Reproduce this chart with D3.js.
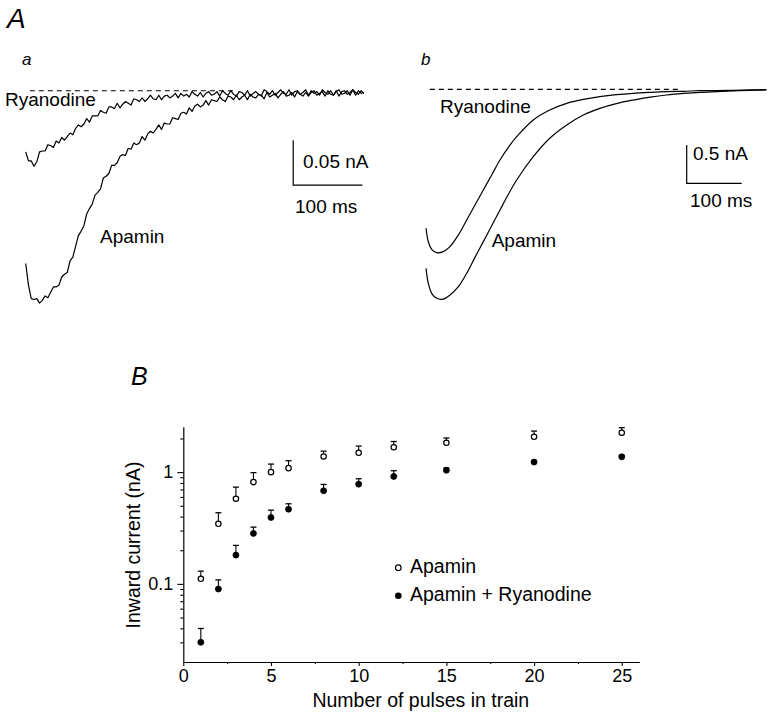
<!DOCTYPE html>
<html><head><meta charset="utf-8">
<script src="https://cdn.jsdelivr.net/npm/d3@7"></script>
<style>
body{margin:0;background:#fff}
svg{display:block}
text{font-family:"Liberation Sans",Arial,Helvetica,sans-serif;fill:#000}
</style>
</head><body>
<svg id="c" width="779" height="720"></svg>
<script>
// ---------- Panel A a : noisy traces, sampled every 4 ms (nA) ----------
const sampleMs = 4;
const aApamin = [-0.192,-0.216,-0.231,-0.232,-0.231,-0.236,-0.233,-0.228,-0.230,-0.224,
 -0.218,-0.218,-0.216,-0.207,-0.204,-0.202,-0.189,-0.185,-0.173,-0.161,
 -0.156,-0.150,-0.137,-0.131,-0.126,-0.116,-0.113,-0.109,-0.097,-0.095,
 -0.092,-0.083,-0.083,-0.080,-0.073,-0.071,-0.072,-0.064,-0.065,-0.058,
 -0.060,-0.058,-0.051,-0.055,-0.048,-0.045,-0.047,-0.043,-0.038,-0.043,
 -0.036,-0.037,-0.037,-0.030,-0.031,-0.032,-0.025,-0.024,-0.026,-0.019,
 -0.023,-0.017,-0.015,-0.018,-0.016,-0.011,-0.016,-0.010,-0.011,-0.012,
 -0.007,-0.010,-0.012,-0.006,-0.007,-0.010,-0.005,-0.010,-0.007,-0.005,
 -0.010,-0.004,-0.007,-0.008,-0.004,-0.005,-0.009,-0.002,-0.007,-0.005,
 -0.003,-0.008,-0.004,-0.001,-0.006,-0.005,-0.002,-0.007,-0.001,-0.004,
 -0.006,-0.002,-0.006,-0.002,0.000,-0.005,-0.003,-0.001,-0.006,0.000,
 -0.004,-0.005,0.000,-0.006,-0.001,0.000,-0.004,-0.002,0.001,-0.005,
 0.000,-0.003,-0.002];
const aRyanodine = [-0.068,-0.078,-0.078,-0.084,-0.079,-0.068,-0.067,-0.067,-0.060,-0.061,
 -0.063,-0.056,-0.058,-0.052,-0.055,-0.051,-0.047,-0.049,-0.042,-0.038,
 -0.040,-0.037,-0.031,-0.035,-0.028,-0.028,-0.028,-0.022,-0.024,-0.025,
 -0.018,-0.018,-0.020,-0.014,-0.019,-0.015,-0.012,-0.014,-0.016,-0.009,
 -0.010,-0.012,-0.008,-0.012,-0.009,-0.005,-0.009,-0.010,-0.005,-0.010,
 -0.006,-0.005,-0.008,-0.006,-0.003,-0.008,-0.003,-0.006,-0.004,-0.007,
 -0.001,-0.004,-0.006,-0.002,-0.007,-0.003,-0.001,-0.005,-0.004,-0.001,
 -0.006,0.000,-0.003,-0.005,0.000,-0.004,-0.006,-0.001,-0.002,-0.005,
 0.000,-0.006,-0.003,-0.001,-0.004,-0.006,0.001,-0.001,-0.004,0.000,
 -0.005,-0.002,0.001,-0.003,-0.004,0.001,-0.005,-0.001,0.000,-0.004,
 -0.002,0.001,-0.005,0.000,-0.003,-0.001,-0.005,0.001,-0.002,-0.004,
 0.000,-0.005,-0.001,0.001,-0.004,-0.003,0.000,-0.005,0.001,-0.002,
 -0.004,0.000,-0.003];

// ---------- Panel A b : averaged traces (ms, nA) ----------
const bTime      = [0,4.2,10.3,19.4,31.5,43.6,58.8,74,89,104.2,119.4,134.5,149.7,164.9,195,225,255.8,286,316,346,377,408,437.6,468,498,529,559,589,619];
const bRyanodine = [-1.812,-1.987,-2.086,-2.130,-2.117,-2.052,-1.900,-1.704,-1.509,-1.313,-1.117,-0.922,-0.757,-0.618,-0.400,-0.270,-0.183,-0.132,-0.096,-0.070,-0.052,-0.040,-0.031,-0.026,-0.018,-0.016,-0.013,-0.008,-0.005];
const bApamin    = [-2.334,-2.529,-2.660,-2.725,-2.735,-2.682,-2.573,-2.399,-2.191,-1.986,-1.778,-1.574,-1.369,-1.182,-0.879,-0.639,-0.465,-0.335,-0.248,-0.186,-0.140,-0.102,-0.074,-0.054,-0.039,-0.030,-0.022,-0.014,-0.009];

// ---------- Panel B ----------
const pulses      = [1,2,3,4,5,6,8,10,12,15,20,25];
const apamin      = [0.111,0.345,0.578,0.814,1.00,1.086,1.38,1.49,1.67,1.83,2.07,2.25];
const apaminSE    = [0.019,0.088,0.156,0.176,0.18,0.179,0.16,0.22,0.21,0.19,0.26,0.25];
const apaRya      = [0.030,0.090,0.181,0.283,0.393,0.466,0.681,0.781,0.915,1.04,1.23,1.37];
const apaRyaSE    = [0.0099,0.0186,0.040,0.039,0.064,0.055,0.095,0.092,0.115,0.05,0.04,0.04];
const xTicks      = [0,5,10,15,20,25];
const xMinorTicks = [2.5,7.5,12.5,17.5,22.5];
const yTicks      = [0.1,1];
const yMinorTicks = [0.03,0.04,0.05,0.06,0.07,0.08,0.09,0.2,0.3,0.4,0.5,0.6,0.7,0.8,0.9,2];
const legendLabels = ["Apamin","Apamin + Ryanodine"];

const svg = d3.select("#c");
const black = "#000";

// ===== Panel A a =====
const xa = d3.scaleLinear().domain([0,490]).range([25.7,25.7+490*0.693]);
const ya = d3.scaleLinear().domain([0,-0.25]).range([90.7,90.7+0.25*900]);
const lineA = d3.line().x((d,i)=>xa(i*sampleMs)).y(d=>ya(d));
svg.append("line").attr("x1",xa(6)).attr("x2",xa(300)).attr("y1",ya(0)).attr("y2",ya(0))
  .attr("stroke",black).attr("stroke-width",1.1).attr("stroke-dasharray","5,4");
[aApamin,aRyanodine].forEach(s=>svg.append("path").attr("d",lineA(s)).attr("fill","none")
  .attr("stroke",black).attr("stroke-width",1.2).attr("stroke-linejoin","round"));
// scale bar a: 100 ms, 0.05 nA
svg.append("path").attr("fill","none").attr("stroke",black).attr("stroke-width",1.2)
  .attr("d",`M${xa(386)},${ya(-0.055)}V${ya(-0.105)}H${xa(486)}`);

// ===== Panel A b =====
const xb = d3.scaleLinear().domain([0,620]).range([426,426+620*0.55]);
const yb = d3.scaleLinear().domain([0,-3]).range([89.3,89.3+3*76.7]);
const lineB = d3.line().x((d,i)=>xb(bTime[i])).y(d=>yb(d)).curve(d3.curveCatmullRom);
svg.append("line").attr("x1",xb(7)).attr("x2",xb(460)).attr("y1",yb(0)).attr("y2",yb(0))
  .attr("stroke",black).attr("stroke-width",1.2).attr("stroke-dasharray","5,4");
[bApamin,bRyanodine].forEach(s=>svg.append("path").attr("d",lineB(s)).attr("fill","none")
  .attr("stroke",black).attr("stroke-width",1.2));
svg.append("path").attr("fill","none").attr("stroke",black).attr("stroke-width",1.2)
  .attr("d",`M${xb(474)},${yb(-0.726)}V${yb(-1.226)}H${xb(574)}`);

// ===== Panel A texts =====
function txt(x,y,s,size,italic,anchor){
  return svg.append("text").attr("x",x).attr("y",y).text(s)
    .attr("font-size",size).attr("font-style",italic?"italic":"normal")
    .attr("text-anchor",anchor||"start");
}
txt(7,28,"A",28,true);
txt(22,65,"a",17,true);
txt(421,65,"b",17,true);
txt(5,106,"Ryanodine",19);
txt(100,243.3,"Apamin",19);
txt(303,168.3,"0.05 nA",19);
txt(295,213.3,"100 ms",19);
txt(440,113.3,"Ryanodine",19);
txt(491.7,246.7,"Apamin",19);
txt(693,160,"0.5 nA",19);
txt(690,206.7,"100 ms",19);

// ===== Panel B =====
txt(131,385,"B",25,true);
const x = d3.scaleLinear().domain([0,26]).range([183.3,639.3]);
const y = d3.scaleLog().domain([0.02,2.55]).range([662,426.7]);

svg.append("g").attr("transform","translate(0,662)")
  .call(d3.axisBottom(x).tickValues(xTicks).tickSize(4).tickPadding(3).tickSizeOuter(0).tickFormat(d3.format("d")));
const gxm = svg.append("g").attr("transform","translate(0,662)")
  .call(d3.axisBottom(x).tickValues(xMinorTicks).tickSize(2).tickSizeOuter(0).tickFormat(""));
gxm.select(".domain").remove();
svg.append("g").attr("transform","translate(183.3,0)")
  .call(d3.axisLeft(y).tickValues(yTicks).tickSize(6).tickPadding(4).tickSizeOuter(0).tickFormat(d=>d===1?"1":"0.1"));
const gym = svg.append("g").attr("transform","translate(183.3,0)")
  .call(d3.axisLeft(y).tickValues(yMinorTicks).tickSize(3).tickSizeOuter(0).tickFormat(""));
gym.select(".domain").remove();
svg.selectAll(".domain").attr("stroke",black).attr("stroke-width",1.2);
svg.selectAll(".tick line").attr("stroke",black).attr("stroke-width",1.1);
svg.selectAll(".tick text").attr("font-size",18).attr("font-family",'"Liberation Sans",Arial,sans-serif').attr("fill",black);

svg.append("text").attr("x",420.8).attr("y",706.7).attr("text-anchor","middle")
  .attr("font-size",19.5).text("Number of pulses in train");
svg.append("text").attr("transform","translate(140,545) rotate(-90)").attr("text-anchor","middle")
  .attr("font-size",19.5).text("Inward current (nA)");

function series(vals,se,filled,r){
  const g = svg.append("g");
  pulses.forEach((p,i)=>{
    const cx=x(p), top=y(vals[i]+se[i]);
    g.append("line").attr("x1",cx).attr("x2",cx).attr("y1",y(vals[i])).attr("y2",top)
      .attr("stroke",black).attr("stroke-width",1.1);
    g.append("line").attr("x1",cx-3).attr("x2",cx+3).attr("y1",top).attr("y2",top)
      .attr("stroke",black).attr("stroke-width",1.3);
  });
  pulses.forEach((p,i)=>{
    g.append("circle").attr("cx",x(p)).attr("cy",y(vals[i])).attr("r",r)
      .attr("fill",filled?black:"#fff").attr("stroke",black).attr("stroke-width",filled?0.8:1.2);
  });
}
series(apamin,apaminSE,false,2.7);
series(apaRya,apaRyaSE,true,3);

// legend
svg.append("circle").attr("cx",398.3).attr("cy",567.7).attr("r",2.8).attr("fill","#fff").attr("stroke",black).attr("stroke-width",1.2);
svg.append("circle").attr("cx",398.3).attr("cy",595.7).attr("r",3.3).attr("fill",black);
txt(410,572.7,legendLabels[0],19.5);
txt(410,600.7,legendLabels[1],19.5);
</script>
</body></html>
